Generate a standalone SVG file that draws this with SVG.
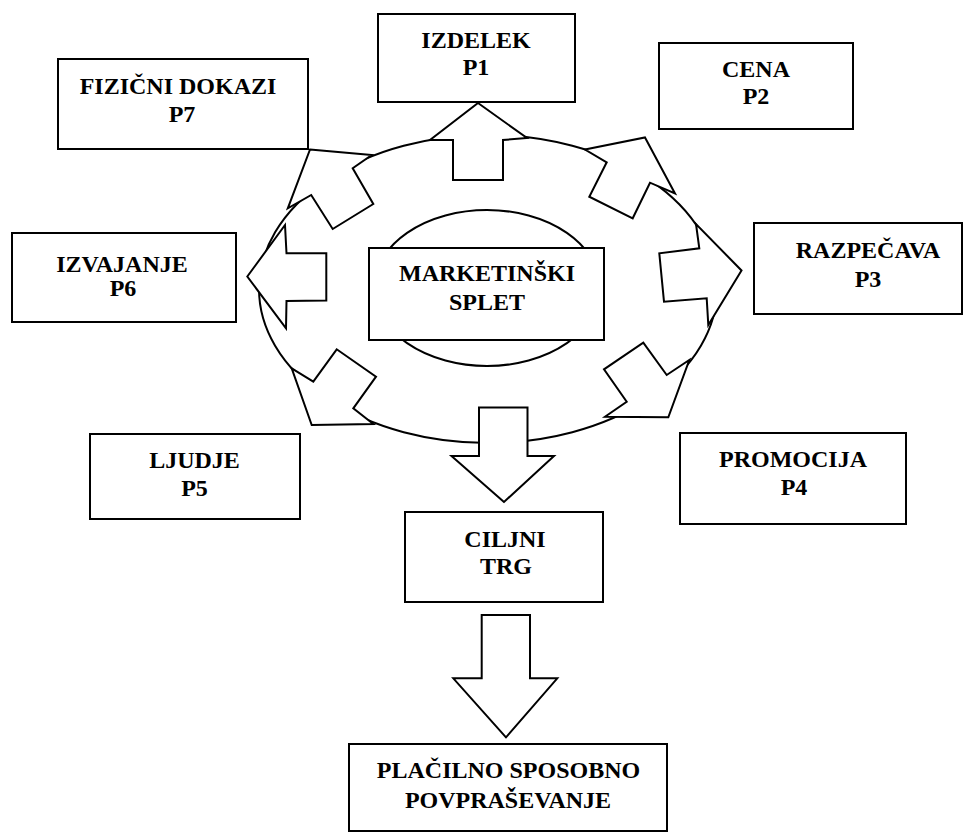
<svg xmlns="http://www.w3.org/2000/svg" width="970" height="834" viewBox="0 0 970 834">
<style>
.box{fill:#fff;stroke:#000;stroke-width:2}
.ring{fill:#fff;stroke:#000;stroke-width:2}
.arr{fill:#fff;stroke:#000;stroke-width:2;stroke-linejoin:miter}
text{font-family:"Liberation Serif","Times New Roman",serif;font-weight:bold;font-size:24px;text-anchor:middle;fill:#000}
</style>
<rect x="0" y="0" width="970" height="834" fill="#fff"/>
<g id="outer-ring">
<ellipse class="ring" cx="488" cy="289" rx="229" ry="154"/>
</g>
<g id="connectors">
<polygon class="arr" points="478,103 527,138 503,140 503,180 453,180 453,140 430,140"/>
<polygon class="arr" points="645,137.5 675,193.5 650,182.7 632.7,218.3 589.3,196.7 606.7,162.3 585,149.5"/>
<polygon class="arr" points="741.5,270.5 708.3,325 706.7,298.3 664,301.7 659.3,253.3 699.3,248.3 696,224"/>
<polygon class="arr" points="668.3,417.3 605,416.7 626.7,401.7 604,369.3 643.3,342.7 666.7,375 689.3,360"/>
<polygon class="arr" points="504,502 451.5,456 479,456 479,407.5 527.5,407.5 527.5,456 554,456"/>
<polygon class="arr" points="311.7,425 291.7,368.3 313.3,381.7 336.7,349.3 376,376.7 353.3,408.3 373.3,424"/>
<polygon class="arr" points="247.3,276.5 285,225 286.5,253.3 326.3,253.3 326.3,300.5 286.5,301 286,328.3"/>
<polygon class="arr" points="310,149.5 371.7,155 352.7,168.3 373.3,204 332.7,229 311.2,195 287.8,208.3"/>
<polygon class="arr" points="506,737.3 453.3,678.3 481.7,678.3 481.7,615 530,615 530,678.3 557.3,678.3"/>
</g>
<g id="marketinski-splet">
<ellipse class="ring" cx="487" cy="288" rx="113" ry="78"/>
<rect class="box" x="369" y="248" width="235" height="92"/>
<text x="487" y="281">MARKETINŠKI</text>
<text x="487" y="310">SPLET</text>
</g>
<g id="izdelek">
<rect class="box" x="378" y="14" width="197" height="88"/>
<text x="476" y="48">IZDELEK</text>
<text x="476" y="75">P1</text>
</g>
<g id="cena">
<rect class="box" x="659" y="43" width="194" height="86"/>
<text x="756" y="77">CENA</text>
<text x="756" y="104">P2</text>
</g>
<g id="razpecava">
<rect class="box" x="754" y="223" width="208" height="91"/>
<text x="868" y="258">RAZPEČAVA</text>
<text x="868" y="287">P3</text>
</g>
<g id="promocija">
<rect class="box" x="680" y="433" width="226" height="91"/>
<text x="793" y="467">PROMOCIJA</text>
<text x="794" y="495">P4</text>
</g>
<g id="ljudje">
<rect class="box" x="90" y="434" width="210" height="85"/>
<text x="194.5" y="468">LJUDJE</text>
<text x="194.5" y="496">P5</text>
</g>
<g id="izvajanje">
<rect class="box" x="12" y="233" width="224" height="89"/>
<text x="122" y="272">IZVAJANJE</text>
<text x="123" y="296">P6</text>
</g>
<g id="fizicni-dokazi">
<rect class="box" x="58" y="59" width="250" height="90"/>
<text x="178" y="94">FIZIČNI DOKAZI</text>
<text x="182" y="122">P7</text>
</g>
<g id="ciljni-trg">
<rect class="box" x="405" y="512" width="198" height="90"/>
<text x="505" y="547">CILJNI</text>
<text x="506" y="574">TRG</text>
</g>
<g id="placilno-sposobno-povprasevanje">
<rect class="box" x="349" y="744" width="318" height="87"/>
<text x="508.5" y="778">PLAČILNO SPOSOBNO</text>
<text x="508" y="808">POVPRAŠEVANJE</text>
</g>
</svg>
